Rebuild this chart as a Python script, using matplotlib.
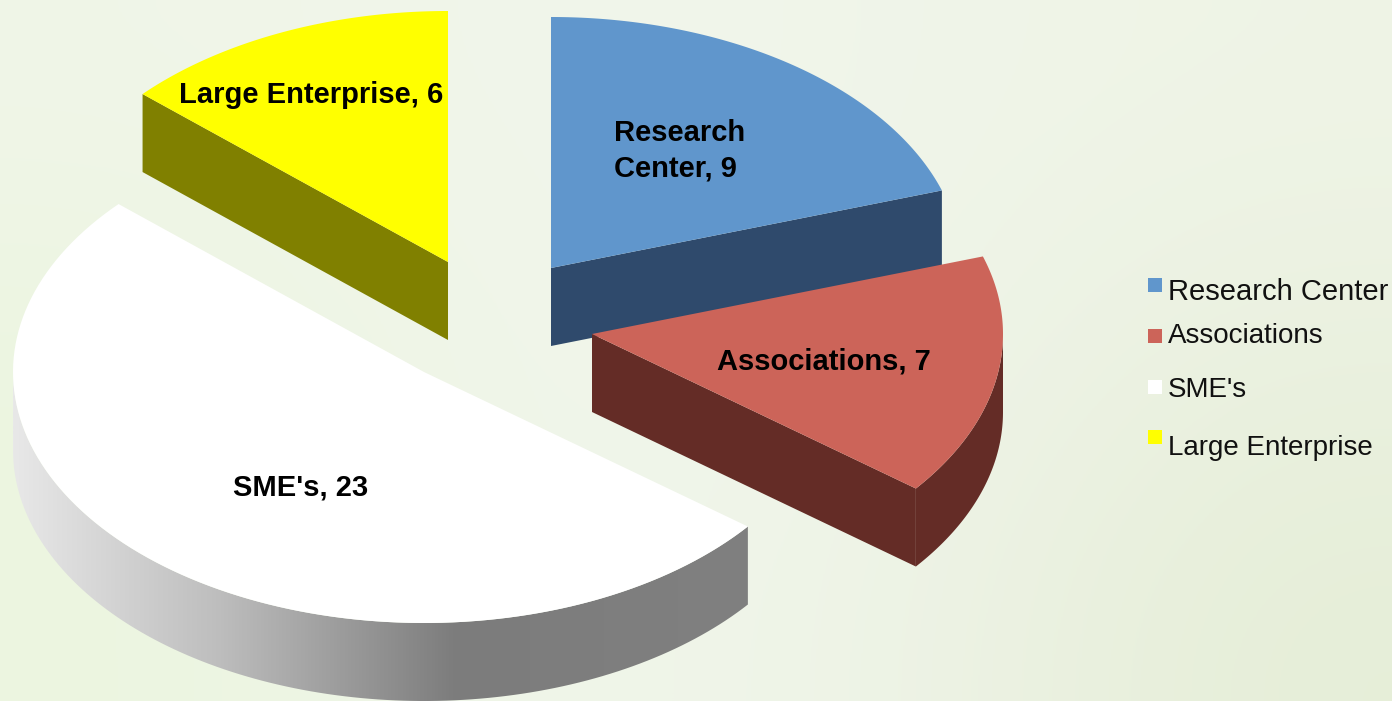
import numpy as np
import matplotlib
matplotlib.use("Agg")
import matplotlib.pyplot as plt
from matplotlib.colors import LinearSegmentedColormap
from matplotlib.patches import Polygon

categories = ["Research Center", "Associations", "SME's", "Large Enterprise"]
values = [9, 7, 23, 6]

top_colors = ["#6096CC", "#CC6459", "#FFFFFF", "#FFFF00"]
side_colors = ["#2F4A6C", "#642C26", "#808080", "#808000"]

# sommet de chaque part (explosion), rayons de l'ellipse et épaisseur, en pixels
apex = [(551, 268), (592, 334), (424, 372), (448, 262)]
rx, ry, depth = 411, 251, 78

labels = ["Research\nCenter, 9", "Associations, 7", "SME's, 23", "Large Enterprise, 6"]
label_pos = [(614, 151), (824, 361), (301, 488), (311, 95)]
legend_y = [292, 336, 390, 448]
square_y = [285, 336, 387, 437]

plt.rcParams["font.family"] = ["Liberation Sans", "DejaVu Sans"]


def point(c, t):
    return c[0] + rx * np.sin(t), c[1] - ry * np.cos(t)


def arc(c, t1, t2, n=120):
    t = np.linspace(t1, t2, n)
    x, y = point(c, t)
    return np.column_stack([x, y])


fig = plt.figure(figsize=(13.92, 7.01), dpi=100)
ax = fig.add_axes([0, 0, 1, 1])
ax.set_xlim(0, 1392)
ax.set_ylim(701, 0)
ax.axis("off")

# fond vert très clair
fond = np.array([
    [[0xF0, 0xF6, 0xE8], [0xF1, 0xF6, 0xEB], [0xF0, 0xF5, 0xEA], [0xEF, 0xF4, 0xE6]],
    [[0xEC, 0xF5, 0xE0], [0xF1, 0xF6, 0xEB], [0xF0, 0xF5, 0xEA], [0xEA, 0xF1, 0xDF]],
    [[0xEC, 0xF5, 0xE0], [0xF0, 0xF6, 0xEA], [0xEF, 0xF4, 0xE8], [0xE6, 0xEE, 0xD8]],
]) / 255
ax.imshow(fond, extent=(0, 1392, 701, 0), interpolation="bicubic", aspect="auto", zorder=0)

# angles calculés à partir des valeurs
cumul = np.cumsum([0] + values) / sum(values) * 2 * np.pi

gris = LinearSegmentedColormap.from_list(
    "gris", [(0, "#E8E8E8"), (0.28, "#BDBDBD"), (0.6, "#7C7C7C"), (1, "#808080")]
)

for i in [0, 3, 2, 1]:
    t1, t2 = cumul[i], cumul[i + 1]
    c = apex[i]
    faces = []
    # faces de coupe visibles
    if i == 0:
        e = point(c, t2)
        faces.append([c, e, (e[0], e[1] + depth), (c[0], c[1] + depth)])
    if i in (1, 3):
        e = point(c, t2 if i == 1 else t1)
        faces.append([c, e, (e[0], e[1] + depth), (c[0], c[1] + depth)])
    for f in faces:
        ax.add_patch(Polygon(f, closed=True, fc=side_colors[i], ec="none", zorder=2))

    # bord arrondi, seulement la partie tournée vers l'avant
    a1, a2 = max(t1, np.pi / 2), min(t2, 3 * np.pi / 2)
    if a1 < a2:
        haut = arc(c, a1, a2)
        bas = haut[::-1] + [0, depth]
        bord = Polygon(np.vstack([haut, bas]), closed=True, zorder=2,
                       fc=side_colors[i], ec="none")
        ax.add_patch(bord)
        if i == 2:
            bord.set_facecolor("none")
            im = ax.imshow(np.linspace(0, 1, 256).reshape(1, -1), cmap=gris,
                           extent=(c[0] - rx, c[0] + rx * 0.8, 701, 0),
                           aspect="auto", zorder=2)
            im.set_clip_path(bord)

    dessus = np.vstack([[c], arc(c, t1, t2)])
    ax.add_patch(Polygon(dessus, closed=True, fc=top_colors[i], ec="none", zorder=3))

ax.set_xlim(0, 1392)
ax.set_ylim(701, 0)

for txt, (x, y), cat in zip(labels, label_pos, categories):
    ha = "left" if cat == "Research Center" else "center"
    ax.text(x, y, txt, fontsize=21, fontweight="bold", ha=ha, va="center",
            linespacing=1.36, color="black", zorder=5)

# légende
for cat, col, y, ys in zip(categories, top_colors, legend_y, square_y):
    taille = 21 if cat == "Research Center" else 20
    ax.scatter([1155], [ys], marker="s", s=101, c=col, linewidths=0, zorder=5)
    ax.text(1168, y, cat, fontsize=taille, ha="left", va="center", color="#111111", zorder=5)

fig.savefig("out.png", dpi=100)
